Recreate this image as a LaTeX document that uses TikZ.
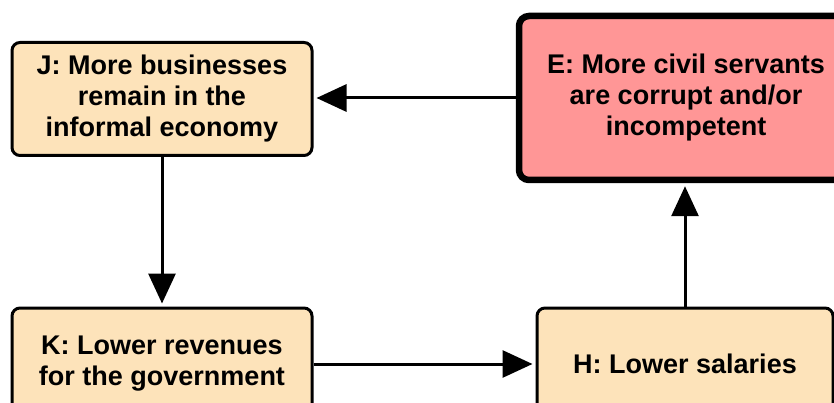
\documentclass[tikz,border=0pt]{standalone}
\usepackage{fontspec}
\setmainfont{Liberation Sans}
\usetikzlibrary{arrows.meta}
\definecolor{beige}{RGB}{253,227,186}
\definecolor{salmon}{RGB}{255,150,150}
\tikzset{
  box/.style={draw=black, line width=3pt, rounded corners=8pt, fill=beige, align=center,
    font=\fontsize{27}{31}\selectfont\bfseries, inner sep=0pt},
  hotbox/.style={box, fill=salmon, line width=6.5pt, rounded corners=10pt},
  conn/.style={line width=3pt, -{Triangle[length=30pt,width=27pt]}, shorten >=3pt}
}
\begin{document}
\begin{tikzpicture}[x=1pt,y=1pt]
\useasboundingbox (0,0) rectangle (834,-403);
\clip (0,0) rectangle (834,-403);
\node[box, minimum width=300pt, minimum height=113pt] (J) at (162,-99)
  {J: More businesses\\remain in the\\informal economy};
\node[hotbox, minimum width=334pt, minimum height=164pt] (E) at (686,-98)
  {E: More civil servants\\are corrupt and/or\\incompetent};
\node[box, minimum width=300pt, minimum height=112pt] (K) at (162,-364)
  {K: Lower revenues\\for the government};
\node[box, minimum width=296pt, minimum height=112pt] (H) at (685,-364)
  {H: Lower salaries};
\draw[conn] (E.west) -- (E.west -| J.east);
\draw[conn] (J.south) -- (J.south |- K.north);
\draw[conn] (K.east) -- (K.east -| H.west);
\draw[conn] (H.north) -- (H.north |- E.south);
\end{tikzpicture}
\end{document}
